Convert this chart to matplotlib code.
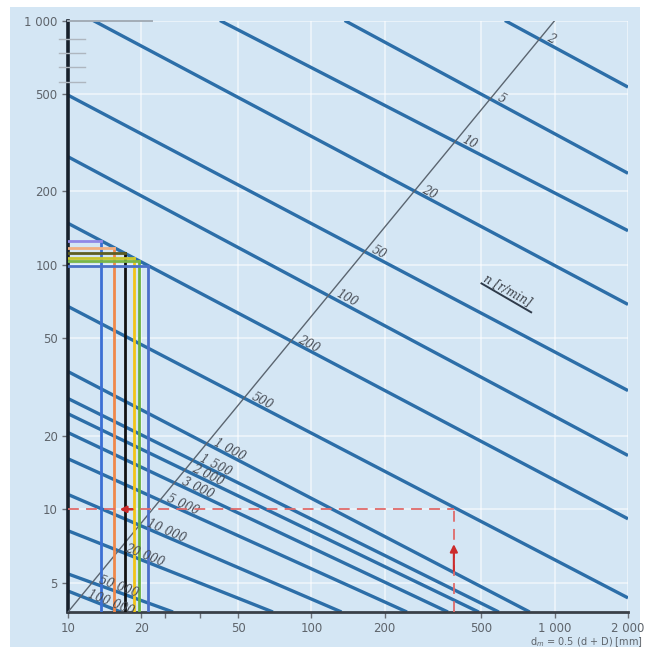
import numpy as np
import matplotlib
matplotlib.use("Agg")
import matplotlib.pyplot as plt
from matplotlib.patches import Rectangle

# Rotational speed lines n [r/min]: each runs from (start_dm, start_nu) to (end_dm, end_nu)
speed_labels = ["2", "5", "10", "20", "50", "100", "200", "500",
                "1 000", "1 500", "2 000", "3 000", "5 000",
                "10 000", "20 000", "50 000", "100 000"]
start_dm = [624, 137, 42.1, 12.7, 10, 10, 10, 10,
            10, 10, 10, 10, 10, 10, 10, 10, 10]
start_nu = [1000, 1000, 1000, 1000, 495, 277, 148, 67.6,
            36.6, 28.4, 24.6, 20.6, 16.1, 11.5, 8.17, 5.44, 4.63]
end_dm = [2000, 2000, 2000, 2000, 2000, 2000, 2000, 2000,
          789, 589, 487, 364, 247, 133, 69.5, 27.0, 16.5]
end_nu = [534, 237, 138, 68.9, 30.6, 16.6, 9.14, 4.34,
          3.8, 3.8, 3.8, 3.8, 3.8, 3.8, 3.8, 3.8, 3.8]

# Diagonal guide carrying the speed labels
guide_dm = [10, 1000]
guide_nu = [3.8, 1000]

# Bearing examples: vertical lines up to the n = 200 line
example_dm = [13.7, 15.5, 17.1, 18.7, 19.6, 21.4]
vert_colors = ["#3b6fd4", "#f0884a", "#111111", "#f2c418", "#6cb33f", "#4a6fc9"]
horiz_colors = ["#9088e6", "#f2ae80", "#5e5e22", "#c9c62c", "#7ab648", "#4a72c8"]

# Worked example: dm = 385 mm at n = 500 r/min -> nu1 = 10 mm2/s
ex_dm = 385
ex_nu = 10

# Small grey marks at top-left
marks_nu = [840, 736, 644, 560]

x_ticks = [10, 20, 50, 100, 200, 500, 1000, 2000]
x_ticklabels = ["10", "20", "50", "100", "200", "500", "1 000", "2 000"]
x_minor = [25, 35]
y_ticks = [5, 10, 20, 50, 100, 200, 500, 1000]
y_ticklabels = ["5", "10", "20", "50", "100", "200", "500", "1 000"]

XMIN, XMAX = 10, 2000
YMIN, YMAX = 3.8, 1000

BG = "#d4e6f4"
LINE = "#2c6ea8"
GREY_TXT = "#5e646b"

fig = plt.figure(figsize=(6.49, 6.57), dpi=100, facecolor="white")
fig.patches.append(Rectangle((10 / 649, 10 / 657), 630 / 649, 640 / 657,
                             transform=fig.transFigure, facecolor=BG,
                             edgecolor="none", zorder=-10))
ax = fig.add_axes([68 / 649, 45 / 657, 560 / 649, 591.5 / 657])
ax.set_facecolor(BG)
ax.set_xscale("log")
ax.set_yscale("log")
ax.set_xlim(XMIN, XMAX)
ax.set_ylim(YMIN, YMAX)

# White grid
for gx in x_ticks[1:]:
    ax.axvline(gx, color="white", lw=1.1, alpha=0.65, zorder=0)
for gy in y_ticks:
    ax.axhline(gy, color="white", lw=1.1, alpha=0.65, zorder=0)

# Diagonal guide
ax.plot(guide_dm, guide_nu, color="#5b6570", lw=1.0, zorder=3)

# Speed lines
for x0, y0, x1, y1 in zip(start_dm, start_nu, end_dm, end_nu):
    ax.plot([x0, x1], [y0, y1], color=LINE, lw=2.4, solid_capstyle="butt", zorder=2)

# Labels at the crossing of each speed line with the guide
lgx0, lgx1 = np.log10(guide_dm)
lgy0, lgy1 = np.log10(guide_nu)
g_slope = (lgy1 - lgy0) / (lgx1 - lgx0)
for lab, x0, y0, x1, y1 in zip(speed_labels, start_dm, start_nu, end_dm, end_nu):
    lx0, lx1, ly0, ly1 = np.log10([x0, x1, y0, y1])
    s = (ly1 - ly0) / (lx1 - lx0)
    lx = (lgy0 - ly0 + s * lx0 - g_slope * lgx0) / (s - g_slope)
    ly = ly0 + s * (lx - lx0)
    p0 = ax.transData.transform((x0, y0))
    p1 = ax.transData.transform((x1, y1))
    ang = np.degrees(np.arctan2(p1[1] - p0[1], p1[0] - p0[0]))
    ax.annotate(lab, xy=(10 ** lx, 10 ** ly), xytext=(5, -3.5),
                textcoords="offset pixels", rotation=ang, rotation_mode="anchor",
                ha="left", va="bottom", fontsize=8.5, fontstyle="italic",
                family="DejaVu Serif", color="#474c55", zorder=4)

# Bearing example lines
ref = speed_labels.index("200")
rlx0, rlx1, rly0, rly1 = np.log10([start_dm[ref], end_dm[ref], start_nu[ref], end_nu[ref]])
for dm, vc, hc in zip(example_dm, vert_colors, horiz_colors):
    top = 10 ** np.interp(np.log10(dm), [rlx0, rlx1], [rly0, rly1])
    ax.plot([dm, dm], [YMIN, top], color=vc, lw=2.0, zorder=3)
    ax.plot([XMIN, dm], [top, top], color=hc, lw=2.0, zorder=3)

# Worked example (red dashed)
red = "#e06a6a"
ax.plot([XMIN, ex_dm], [ex_nu, ex_nu], color=red, lw=1.3, ls=(0, (6, 4)), zorder=4)
ax.plot([ex_dm, ex_dm], [YMIN, ex_nu], color=red, lw=1.3, ls=(0, (6, 4)), zorder=4)
ax.annotate("", xy=(ex_dm, 7.2), xytext=(ex_dm, 5.6),
            arrowprops=dict(arrowstyle="-|>", color="#cc2b2b", lw=1.5,
                            mutation_scale=11, shrinkA=0, shrinkB=0), zorder=5)
ax.annotate("", xy=(16.3, ex_nu), xytext=(18.4, ex_nu),
            arrowprops=dict(arrowstyle="-|>", color="#cc2b2b", lw=1.8,
                            mutation_scale=9, shrinkA=0, shrinkB=0), zorder=5)

# Grey marks at the top-left
ax.plot([XMIN, 22.1], [YMAX, YMAX], color="#a3adb7", lw=1.4, zorder=3, clip_on=False)
for m in marks_nu:
    ax.plot([9.2, 11.8], [m, m], color="#aeb6bf", lw=1.0, zorder=3, clip_on=False)

# Speed unit label with underline
ax.text(500, 84, "n [r/min]", rotation=-29, rotation_mode="anchor",
        ha="left", va="bottom", fontsize=8.5, fontstyle="italic",
        family="DejaVu Serif", color="#3a3f47", zorder=4)
ax.plot([500, 800], [84, 64], color="#2f3b4a", lw=1.4, zorder=4)

# Axes styling
for side in ("top", "right"):
    ax.spines[side].set_visible(False)
ax.spines["left"].set_color("#17202b")
ax.spines["left"].set_linewidth(2.6)
ax.spines["bottom"].set_color("#3a4048")
ax.spines["bottom"].set_linewidth(2.0)

ax.set_xticks(x_ticks)
ax.set_xticklabels(x_ticklabels)
ax.set_xticks(x_minor, minor=True)
ax.set_yticks(y_ticks)
ax.set_yticklabels(y_ticklabels)
ax.yaxis.set_minor_locator(matplotlib.ticker.NullLocator())
ax.tick_params(axis="both", which="major", labelsize=8.5, colors="#6a7078",
               length=4, width=1.0, direction="out")
ax.tick_params(axis="x", which="minor", length=4, width=1.0, color="#6a7078")
for t in ax.get_xticklabels() + ax.get_yticklabels():
    t.set_color(GREY_TXT)

fig.text(643 / 649, 1 - 642 / 657, r"d$_m$ = 0.5 (d + D) [mm]", ha="right",
         va="center", fontsize=7, color=GREY_TXT)

fig.savefig("out.png", dpi=100, facecolor=fig.get_facecolor())
